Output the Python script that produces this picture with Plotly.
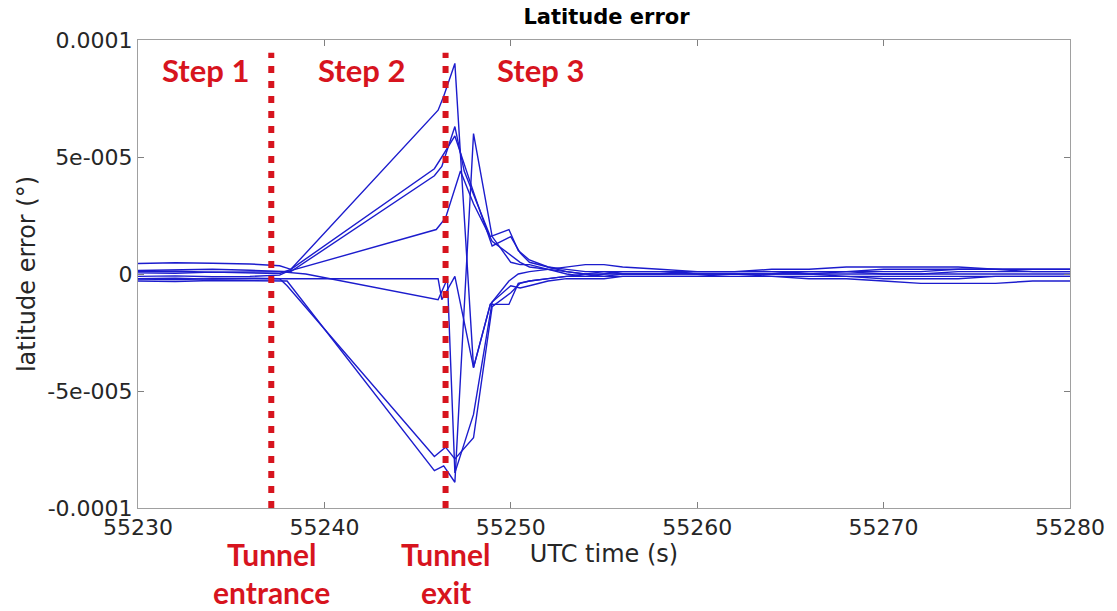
import plotly.graph_objects as go

# ---- data (latitude error in degrees, values read in units of 1e-6) ----
T_PRE = [55230, 55232, 55234, 55236, 55237.6]
T_TAIL = [55251, 55252, 55253, 55254, 55255, 55256, 55258, 55260, 55262, 55264,
          55266, 55268, 55270, 55272, 55274, 55276, 55278, 55280]

pre_vals = {
    "s1": [4.5, 4.8, 4.6, 4.3, 3.5],
    "s2": [1.5, 1.8, 2.0, 1.6, 1.0],
    "s3": [0.5, 0.3, 0.8, 0.6, 0.2],
    "s4": [-1.0, -0.8, -1.2, -1.0, -0.5],
    "s5": [-3.0, -3.2, -2.8, -3.0, -3.0],
    "s6": [-2.2, -2.4, -2.0, -1.8, -2.0],
    "s7": [1.0, 1.2, 0.8, 1.0, 1.0],
    "s8": [-2.0, -1.8, -2.2, -2.0, -2.0],
}

mid_t = {
    "s1": [55238.2, 55246.1, 55246.4, 55247.0, 55248.0, 55248.9, 55249.9, 55250.4],
    "s2": [55238.2, 55245.9, 55246.3, 55247.0, 55247.5, 55248.9, 55249.9, 55250.4],
    "s3": [55238.2, 55245.9, 55246.3, 55247.0, 55248.0, 55249.0, 55250.0, 55250.5],
    "s4": [55238.0, 55246.0, 55246.5, 55247.3, 55248.0, 55249.0, 55250.0, 55250.5],
    "s5": [55238.0, 55245.9, 55246.4, 55247.0, 55248.0, 55249.0, 55250.0, 55250.5],
    "s6": [55238.0, 55245.9, 55246.5, 55247.0, 55248.0, 55249.0, 55250.0, 55250.5],
    "s7": [55239.0, 55246.1, 55246.6, 55247.0, 55248.0, 55249.0, 55250.0, 55250.5],
    "s8": [55238.0, 55246.1, 55246.3, 55247.0, 55248.0, 55248.9, 55249.9, 55250.4],
}
mid_vals = {
    "s1": [2, 70, 76, 90, -40, -13, -3, 0],
    "s2": [1, 42, 46, 63, 44, 16, 19, 10],
    "s3": [2, 45, 50, 59, 35, 12, 16, 9],
    "s4": [1, 19, 24, 44, 30, 14, 8, 5],
    "s5": [-3, -84, -82, -89, 60, 16, 5, 4],
    "s6": [-5, -78, -74, -79, -70, -14, -8, -4],
    "s7": [0, -11, -2, -85, -60, -12, -5, -6],
    "s8": [-2, -2, -11, -1, -40, -13, -13, -4],
}

tail_vals = {
    "s1": [1, 2, 3, 4, 4, 3, 2, 1, 1, 2, 2, 3, 3, 3, 3, 2, 2, 2],
    "s2": [6, 3, 1, 0, 0, 1, 1, 1, 1, 1, 1, 1, 0, 0, 1, 1, 1, 1],
    "s3": [5, 3, 2, 1, 1, 0, 0, 0, 0, 0, 0, 1, 1, 1, 2, 2, 1, 1],
    "s4": [3, 2, 0, -1, -1, 0, 0, 1, 1, 1, 0, 0, 0, 0, 0, 0, 0, 0],
    "s5": [4, 2, 1, 0, -1, -1, -1, -1, 0, 0, 0, -1, -1, -1, -1, -1, -1, -1],
    "s6": [-3, -2, -1, -1, 0, 0, 0, 0, 0, -1, -1, -1, -2, -2, -2, -1, -1, -1],
    "s7": [-5, -3, -2, -2, -2, -1, -1, -1, -1, -1, -2, -2, -3, -4, -4, -4, -3, -3],
    "s8": [-3, -2, -1, 0, 1, 1, 1, 0, 0, 0, 1, 1, 2, 2, 2, 2, 2, 2],
}

Y_TICKS = [-1e-4, -5e-5, 0, 5e-5, 1e-4]
Y_TICK_TEXT = ["-0.0001", "-5e-005", "0", "5e-005", "0.0001"]
X_TICKS = [55230, 55240, 55250, 55260, 55270, 55280]
X_TICK_TEXT = ["55230", "55240", "55250", "55260", "55270", "55280"]

TUNNEL_ENTRANCE = 55237.15
TUNNEL_EXIT = 55246.5
STEP_LABELS = [("Step 1", 55233.6), ("Step 2", 55242.0), ("Step 3", 55251.6)]

# ---- figure ----
fig = go.Figure()
BLUE = "rgb(28,28,205)"
for key in pre_vals:
    t = T_PRE + mid_t[key] + T_TAIL
    v = [x * 1e-6 for x in pre_vals[key] + mid_vals[key] + tail_vals[key]]
    fig.add_trace(go.Scatter(x=t, y=v, mode="lines",
                             line=dict(color=BLUE, width=1.4),
                             showlegend=False, hoverinfo="skip"))

RED = "#d7141e"
for xv in (TUNNEL_ENTRANCE, TUNNEL_EXIT):
    fig.add_shape(type="line", xref="x", yref="y", x0=xv, x1=xv,
                  y0=-1e-4, y1=0.945e-4,
                  line=dict(color=RED, width=6, dash="7px,8px"))

for txt, xv in STEP_LABELS:
    fig.add_annotation(x=xv, y=0.87e-4, xref="x", yref="y", text="<b>%s</b>" % txt,
                       showarrow=False, yanchor="middle",
                       font=dict(family="Lato", size=31, color=RED))

for txt, xv, yp in [("Tunnel", TUNNEL_ENTRANCE, -0.099), ("entrance", TUNNEL_ENTRANCE, -0.18),
                    ("Tunnel", TUNNEL_EXIT, -0.099), ("exit", TUNNEL_EXIT, -0.18)]:
    fig.add_annotation(x=xv, y=yp, xref="x", yref="paper", text="<b>%s</b>" % txt,
                       showarrow=False, xanchor="center", yanchor="middle",
                       font=dict(family="Lato", size=30, color=RED))

AX = dict(showline=True, linecolor="#a0a0a0", linewidth=1, mirror="ticks",
          ticks="inside", ticklen=6, tickcolor="#808080", showgrid=False, zeroline=False,
          tickfont=dict(family="DejaVu Sans", size=22, color="#262626"))

W, H = 1117, 611
fig.update_layout(
    width=W, height=H,
    margin=dict(l=138, r=42, t=40, b=103),
    plot_bgcolor="white", paper_bgcolor="white",
    title=dict(text="<b>Latitude error</b>", x=(138 + W - 42) / 2 / W, xanchor="center",
               y=1 - 17 / H, yanchor="middle",
               font=dict(family="DejaVu Sans", size=21, color="black")),
    xaxis=dict(range=[55230, 55280], tickvals=X_TICKS, ticktext=X_TICK_TEXT,
               ticklabelstandoff=0,
               title=dict(text="UTC time (s)", standoff=4,
                          font=dict(family="DejaVu Sans", size=24, color="#262626")), **AX),
    yaxis=dict(range=[-1e-4, 1e-4], tickvals=Y_TICKS, ticktext=Y_TICK_TEXT,
               title=dict(text="latitude error (°)", standoff=4,
                          font=dict(family="DejaVu Sans", size=24, color="#262626")), **AX),
)

# remove the default 8px page margin so the figure sits at the window's corner
fig.write_html("out.html", config={"displayModeBar": False},
               post_script="document.body.style.margin='0';")
